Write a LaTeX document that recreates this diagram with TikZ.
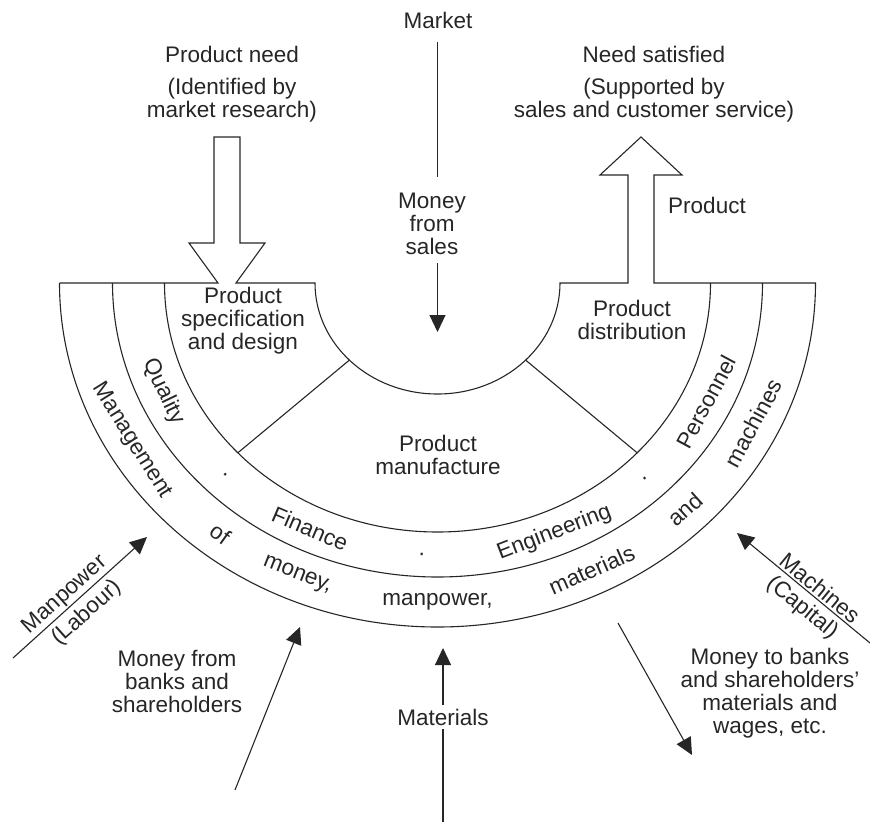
\documentclass[tikz,border=0pt]{standalone}
\usepackage{fontspec}
\setmainfont{Liberation Sans}
\usetikzlibrary{arrows.meta,calc}
\begin{document}
\begin{tikzpicture}[x=1pt,y=-1pt,
  line width=1.1pt, draw=black!85,
  lbl/.style={font=\fontsize{22.5}{23}\selectfont, text=black!85, align=center, inner sep=0pt},
  arr/.style={-{Triangle[length=17pt,width=16pt]}},
  ring/.style={line width=1.1pt}]
\useasboundingbox (0,0) rectangle (870,822);
\coordinate (c) at (437.5,283);

% main outline with the two outline arrows
\draw[line join=miter] (59.5,283) -- (218,283) -- (189,243) -- (214,243) -- (214,137) -- (240,137) -- (240,243) -- (265,243) -- (236,283) -- (315,283)
  arc[start angle=180, end angle=360, x radius=122.5pt, y radius=111pt]
  -- (628,283) -- (628,175) -- (600,175) -- (641,137) -- (682,175) -- (654,175) -- (654,283) -- (815.5,283)
  arc[start angle=0, end angle=-180, x radius=378pt, y radius=344pt];
\draw[ring] (112.5,283) arc[start angle=180, end angle=360, x radius=325pt, y radius=294pt];
\draw[ring] (164.5,283) arc[start angle=180, end angle=360, x radius=273pt, y radius=249pt];
% radial dividers
\draw ($(c)+(224:122.5pt and 111pt)$) -- ($(c)+(223:273pt and 249pt)$);
\draw ($(c)+(316:122.5pt and 111pt)$) -- ($(c)+(317:273pt and 249pt)$);

% top texts
\node[lbl] (market) at (438,20) {Market};
\node[lbl] (msales) at (432,224) {Money\\from\\sales};
\coordinate (mtip) at (437.5,332);
\draw[shorten <=13pt, shorten >=16pt] (market.south -| mtip) -- (msales.north -| mtip);
\draw[arr, shorten <=8pt] (msales.south -| mtip) -- (mtip);

\node[lbl] (pneed) at (232,54) {Product need};
\node[lbl] (pneed2) at (232,100) {(Identified by\\market research)};
\node[lbl] (nsat) at (654,54) {Need satisfied};
\node[lbl] (nsat2) at (654,100) {(Supported by\\sales and customer service)};
\node[lbl] (prod) at (707,205) {Product};

\node[lbl] (spec) at (243,321) {Product\\specification\\and design};
\node[lbl] (dist) at (632,320) {Product\\distribution};
\node[lbl] (manuf) at (438,455) {Product\\manufacture};

% ring words
\foreach \t/\w [count=\i] in {203.6/Quality, 225/{.}, 244.8/Finance, 267/{.}, 293/Engineering, 314/{.}, 334/Personnel}{
  \pgfmathsetmacro\rot{atan2(271.5*cos(\t), -299*sin(\t))}
  \node[lbl, rotate=\rot] (mid\i) at ($(c)+(\t:299pt and 271.5pt)$) {\w};
}
\foreach \t/\w [count=\i] in {209.6/Management, 231.8/of, 246.5/{money,}, 270/{manpower,}, 296/materials, 314.8/and, 334/machines}{
  \pgfmathsetmacro\rot{atan2(319*cos(\t), -351.5*sin(\t))}
  \node[lbl, rotate=\rot] (out\i) at ($(c)+(\t:351.5pt and 319pt)$) {\w};
}

% outside arrows
\coordinate (mp0) at (13,658); \coordinate (mp1) at (147,537);
\draw[arr] (mp0) -- (mp1);
\node[lbl, rotate=42.1] (manp) at (65,595) {Manpower};
\node[lbl, rotate=42.1] (labour) at (87,613) {(Labour)};

\coordinate (mc0) at (870,643); \coordinate (mc1) at (737,533);
\draw[arr] (mc0) -- (mc1);
\node[lbl, rotate=-39.6] (mach) at (820,588) {Machines};
\node[lbl, rotate=-39.6] (capital) at (802,608) {(Capital)};

\coordinate (mb0) at (235,790); \coordinate (mb1) at (300,627);
\draw[arr] (mb0) -- (mb1);
\node[lbl] (mfb) at (177,681) {Money from\\banks and\\shareholders};

\node[lbl, inner sep=3pt] (mat) at (443,717) {Materials};
\coordinate (mt0) at (443,822); \coordinate (mt1) at (443,648);
\draw[arr] (mat.north) -- (mt1);
\draw (mt0) -- (mat.south);

\coordinate (mo0) at (618,623); \coordinate (mo1) at (692,755);
\draw[arr] (mo0) -- (mo1);
\node[lbl] (mtb) at (770,693) {Money to banks\\and shareholders'\\materials and\\wages, etc.};
\end{tikzpicture}
\end{document}
